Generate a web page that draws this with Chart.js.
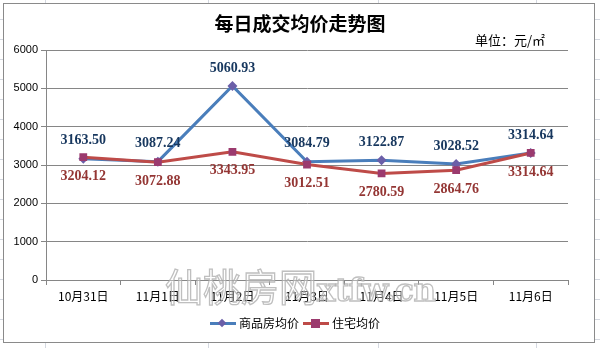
<!DOCTYPE html>
<html>
<head>
<meta charset="utf-8">
<script src="https://cdn.jsdelivr.net/npm/chart.js@4/dist/chart.umd.min.js"></script>
<style>
  html, body { margin: 0; padding: 0; }
  body {
    width: 600px; height: 348px; position: relative; overflow: hidden;
    background-color: #fff;
    background-image:
      linear-gradient(to right, transparent 45px, #d4d8e0 45px, #d4d8e0 46px, transparent 46px),
      linear-gradient(to right, transparent 208px, #d4d8e0 208px, #d4d8e0 209px, transparent 209px),
      linear-gradient(to right, transparent 378px, #d4d8e0 378px, #d4d8e0 379px, transparent 379px),
      linear-gradient(to right, transparent 536px, #d4d8e0 536px, #d4d8e0 537px, transparent 537px),
      repeating-linear-gradient(to bottom, transparent 0, transparent 19px, #d4d8e0 19px, #d4d8e0 20px);
  }
  #frame {
    position: absolute; left: 3px; top: 3px; width: 592px; height: 340px;
    box-sizing: border-box; border: 1px solid #8a8a8a; background: #fff;
  }
  #chart { position: absolute; left: 0; top: 0; }
  .txt { position: absolute; white-space: nowrap; font-family: "Noto Sans CJK SC", sans-serif; color: #000; }
  #title { left: 0; width: 600px; top: 10px; text-align: center; font-size: 19px; font-weight: bold; line-height: 26px; }
  #unit { left: 475px; top: 31px; font-size: 13px; line-height: 18px; }
  #legend { left: 210px; top: 315px; font-size: 12px; line-height: 16px; display: flex; align-items: center; }
  .key { position: relative; width: 26px; height: 16px; margin-right: 3px; }
  .key .ln { position: absolute; left: 0; right: 0; top: 7px; height: 3px; }
  .key .mk { position: absolute; }
  #watermark {
    left: 165px; top: 262px; font-size: 38px; line-height: 46px; font-family: "Noto Sans CJK SC", sans-serif;
    color: rgba(255,255,255,0.35); -webkit-text-stroke: 1.3px rgba(170,170,170,0.75);
  }
  #watermark span { font-family: "DejaVu Serif", serif; font-size: 31px; font-weight: bold; letter-spacing: -0.5px; }
</style>
</head>
<body>
<div id="frame"></div>
<canvas id="chart" width="600" height="348"></canvas>
<div class="txt" id="title">每日成交均价走势图</div>
<div class="txt" id="unit">单位：元/㎡</div>
<div class="txt" id="legend">
  <div class="key"><div class="ln" style="background:#4a7ebb"></div><div class="mk" style="left:9px;top:5px;width:6px;height:6px;background:#6b5fa8;transform:rotate(45deg)"></div></div>
  <span style="margin-right:4px">商品房均价</span>
  <div class="key"><div class="ln" style="background:#be4b48"></div><div class="mk" style="left:8px;top:4px;width:9px;height:9px;background:#9b3a6e"></div></div>
  <span>住宅均价</span>
</div>
<div class="txt" id="watermark">仙桃房网<span>xtfw.cn</span></div>

<script>
// ------------------------
// DATA
// ------------------------
const days = ["10月31日", "11月1日", "11月2日", "11月3日", "11月4日", "11月5日", "11月6日"];
const commodityAvg = [3163.50, 3087.24, 5060.93, 3084.79, 3122.87, 3028.52, 3314.64];
const housingAvg = [3204.12, 3072.88, 3343.95, 3012.51, 2780.59, 2864.76, 3314.64];

const yTicks = [0, 1000, 2000, 3000, 4000, 5000, 6000];

// value labels above / below each point
const valueLabels = {
  id: "valueLabels",
  afterDatasetsDraw(chart) {
    const ctx = chart.ctx;
    ctx.save();
    ctx.font = "bold 14px 'Liberation Serif', serif";
    ctx.textAlign = "center";
    ctx.textBaseline = "middle";
    chart.data.datasets.forEach((ds, i) => {
      const meta = chart.getDatasetMeta(i);
      ctx.fillStyle = ds.labelColor;
      meta.data.forEach((pt, j) => {
        ctx.fillText(ds.data[j].toFixed(2), pt.x, pt.y + ds.labelOffset);
      });
    });
    ctx.restore();
  }
};

const gridGray = "#868686";

new Chart(document.getElementById("chart"), {
  type: "line",
  data: {
    labels: days,
    datasets: [
      {
        label: "商品房均价",
        data: commodityAvg,
        borderColor: "#4a7ebb",
        backgroundColor: "#6b5fa8",
        borderWidth: 3,
        pointStyle: "rectRot",
        pointRadius: 5,
        pointBorderWidth: 0,
        tension: 0,
        order: 2,
        labelColor: "#17375e",
        labelOffset: -18
      },
      {
        label: "住宅均价",
        data: housingAvg,
        borderColor: "#be4b48",
        backgroundColor: "#9b3a6e",
        borderWidth: 3,
        pointStyle: "rect",
        pointRadius: 5.5,
        pointBorderWidth: 0,
        tension: 0,
        order: 1,
        labelColor: "#943634",
        labelOffset: 19
      }
    ]
  },
  options: {
    responsive: false,
    animation: false,
    layout: { padding: { left: 0, right: 32, top: 50, bottom: 38 } },
    plugins: {
      legend: { display: false },
      title: { display: false },
      tooltip: { enabled: false }
    },
    scales: {
      x: {
        offset: true,
        grid: {
          offset: true,
          drawOnChartArea: false,
          drawTicks: true,
          tickLength: 5,
          color: gridGray
        },
        border: { color: gridGray },
        ticks: {
          color: "#000",
          padding: 4,
          maxRotation: 0,
          autoSkip: false,
          font: { family: "'Noto Sans CJK SC', sans-serif", size: 12 }
        },
        afterFit: (scale) => { scale.height = 30; }
      },
      y: {
        min: 0,
        max: 6000,
        afterBuildTicks: (scale) => { scale.ticks = yTicks.map(v => ({ value: v })); },
        grid: { color: gridGray, tickLength: 5 },
        border: { color: gridGray },
        ticks: {
          color: "#000",
          padding: 3,
          callback: (v) => String(v),
          font: { family: "'Liberation Sans', sans-serif", size: 11 }
        },
        afterFit: (scale) => { scale.width = 46; }
      }
    }
  },
  plugins: [valueLabels]
});
</script>
</body>
</html>
